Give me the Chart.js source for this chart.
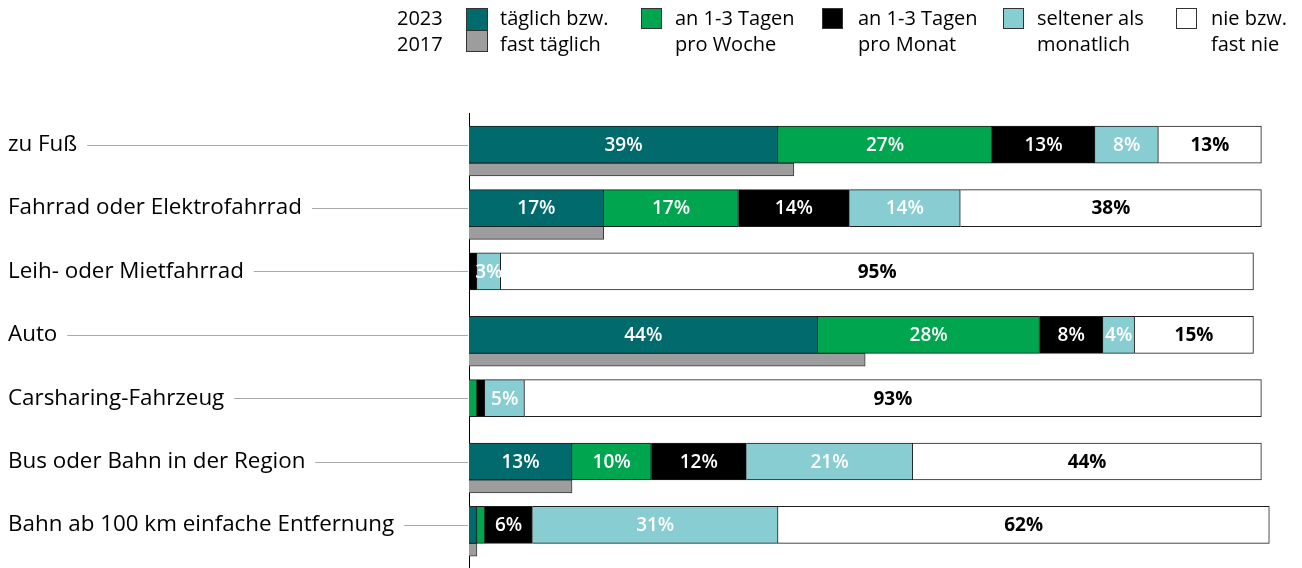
<!DOCTYPE html>
<html lang="de">
<head>
<meta charset="utf-8">
<script src="https://cdn.jsdelivr.net/npm/chart.js@4.4.1/dist/chart.umd.min.js"></script>
<style>
  body { margin: 0; background: #fff; font-family: "Open Sans", sans-serif; }
  #wrap { position: relative; width: 1302px; height: 568px; }
  #legende { position: absolute; left: 0; top: 0; width: 1302px; height: 60px; font-size: 20px; line-height: 26px; color: #000; }
  #legende div { position: absolute; white-space: nowrap; }
  #legende .box { border: 1px solid #333; box-sizing: border-box; }
</style>
</head>
<body>
<div id="wrap">
  <canvas id="Canvas"></canvas>
  <div id="legende">
    <div style="left:397px;top:5px">2023<br>2017</div>
    <div class="box" style="left:466px;top:8px;width:22px;height:23px;background:#006a6d"></div>
    <div class="box" style="left:466px;top:30px;width:22px;height:22px;background:#9d9d9d"></div>
    <div style="left:500px;top:5px">täglich bzw.<br>fast täglich</div>
    <div class="box" style="left:641px;top:8px;width:21px;height:21px;background:#00a64f"></div>
    <div style="left:675px;top:5px">an 1-3 Tagen<br>pro Woche</div>
    <div class="box" style="left:822px;top:8px;width:21px;height:21px;background:#000"></div>
    <div style="left:858px;top:5px">an 1-3 Tagen<br>pro Monat</div>
    <div class="box" style="left:1003px;top:8px;width:21px;height:21px;background:#88cdd2"></div>
    <div style="left:1037px;top:5px">seltener als<br>monatlich</div>
    <div class="box" style="left:1176px;top:8px;width:21px;height:21px;background:#fff"></div>
    <div style="left:1211px;top:5px">nie bzw.<br>fast nie</div>
  </div>
</div>
<script>
// Daten (Prozent), 2023 und 2017
let kategorien = ["zu Fuß", "Fahrrad oder Elektrofahrrad", "Leih- oder Mietfahrrad", "Auto",
  "Carsharing-Fahrzeug", "Bus oder Bahn in der Region", "Bahn ab 100 km einfache Entfernung"];
let taeglich = [39, 17, 0, 44, 0, 13, 1];
let proWoche = [27, 17, 0, 28, 1, 10, 1];
let proMonat = [13, 14, 1, 8, 1, 12, 6];
let seltener = [8, 14, 3, 4, 5, 21, 31];
let nie = [13, 38, 95, 15, 93, 44, 62];
let taeglich2017 = [41, 17, null, 50, null, 13, 1];

let serien = [
  { label: "täglich bzw. fast täglich", werte: taeglich, farbe: "#006a6d" },
  { label: "an 1-3 Tagen pro Woche", werte: proWoche, farbe: "#00a64f" },
  { label: "an 1-3 Tagen pro Monat", werte: proMonat, farbe: "#000000" },
  { label: "seltener als monatlich", werte: seltener, farbe: "#88cdd2" },
  { label: "nie bzw. fast nie", werte: nie, farbe: "#ffffff" }
];

let datasets = serien.map(function (s) {
  return {
    label: s.label,
    data: s.werte.map((v, i) => ({ x: v === 0 ? null : v, y: i })),
    backgroundColor: s.farbe,
    borderColor: "#1e1e1e",
    borderWidth: 1,
    barThickness: 37,
    stack: "a"
  };
});

// 2017 als schmaler grauer Balken direkt unter dem 2023-Balken
datasets.push({
  label: "2017",
  data: taeglich2017.map((v, i) => ({ x: v, y: i + 0.392 })).filter(d => d.x !== null),
  backgroundColor: "#9d9d9d",
  borderColor: "#3a3a3a",
  borderWidth: 1,
  barThickness: 13,
  stack: "a"
});

const wertePlugin = {
  id: "werte",
  afterDatasetsDraw(chart) {
    const ctx = chart.ctx;
    ctx.save();
    ctx.textAlign = "center";
    ctx.textBaseline = "middle";
    serien.forEach(function (s, i) {
      chart.getDatasetMeta(i).data.forEach(function (bar, j) {
        const v = s.werte[j];
        if (v < 3) return;
        ctx.font = i === 4 ? "bold 19px 'Open Sans'" : "600 19px 'Open Sans'";
        ctx.fillStyle = i === 4 ? "#000" : "#fff";
        ctx.fillText(v + "%", (bar.x + bar.base) / 2, bar.y + 1);
      });
    });
    ctx.restore();
  }
};

// graue Linien von der Beschriftung bis zur Achse
const linienPlugin = {
  id: "linien",
  afterDraw(chart) {
    const y = chart.scales.y;
    const ctx = chart.ctx;
    ctx.save();
    ctx.font = "22.4px 'Open Sans'";
    ctx.strokeStyle = "#a8a8a8";
    ctx.lineWidth = 1;
    kategorien.forEach(function (k, i) {
      const py = Math.round(y.getPixelForValue(i)) + 0.5;
      const start = y.left + ctx.measureText(k).width + 10;
      ctx.beginPath();
      ctx.moveTo(start, py);
      ctx.lineTo(chart.chartArea.left - 1, py);
      ctx.stroke();
    });
    ctx.restore();
  }
};

new Chart(document.getElementById("Canvas").getContext("2d"), {
  type: "bar",
  data: { datasets: datasets },
  options: {
    indexAxis: "y",
    responsive: true,
    maintainAspectRatio: false,
    animation: false,
    layout: { padding: { top: 113, left: 8, right: 1, bottom: 0 } },
    scales: {
      x: { stacked: true, min: 0, max: 105, display: false },
      y: {
        type: "linear",
        reverse: true,
        offset: false,
        bounds: "data",
        min: -0.5,
        max: 6.68,
        grid: { display: false, offset: false },
        border: { display: true, color: "#000", width: 1 },
        afterBuildTicks: function (scale) {
          scale.ticks = kategorien.map((k, i) => ({ value: i }));
        },
        afterFit: function (scale) {
          scale.width = 461;
          scale.paddingTop = 0;
          scale.paddingBottom = 0;
        },
        ticks: {
          crossAlign: "far",
          autoSkip: false,
          color: "#000",
          font: { family: "'Open Sans'", size: 22.4 },
          callback: function (value) {
            return kategorien[value];
          }
        }
      }
    },
    plugins: {
      legend: { display: false },
      tooltip: { enabled: false }
    }
  },
  plugins: [wertePlugin, linienPlugin]
});
</script>
</body>
</html>
